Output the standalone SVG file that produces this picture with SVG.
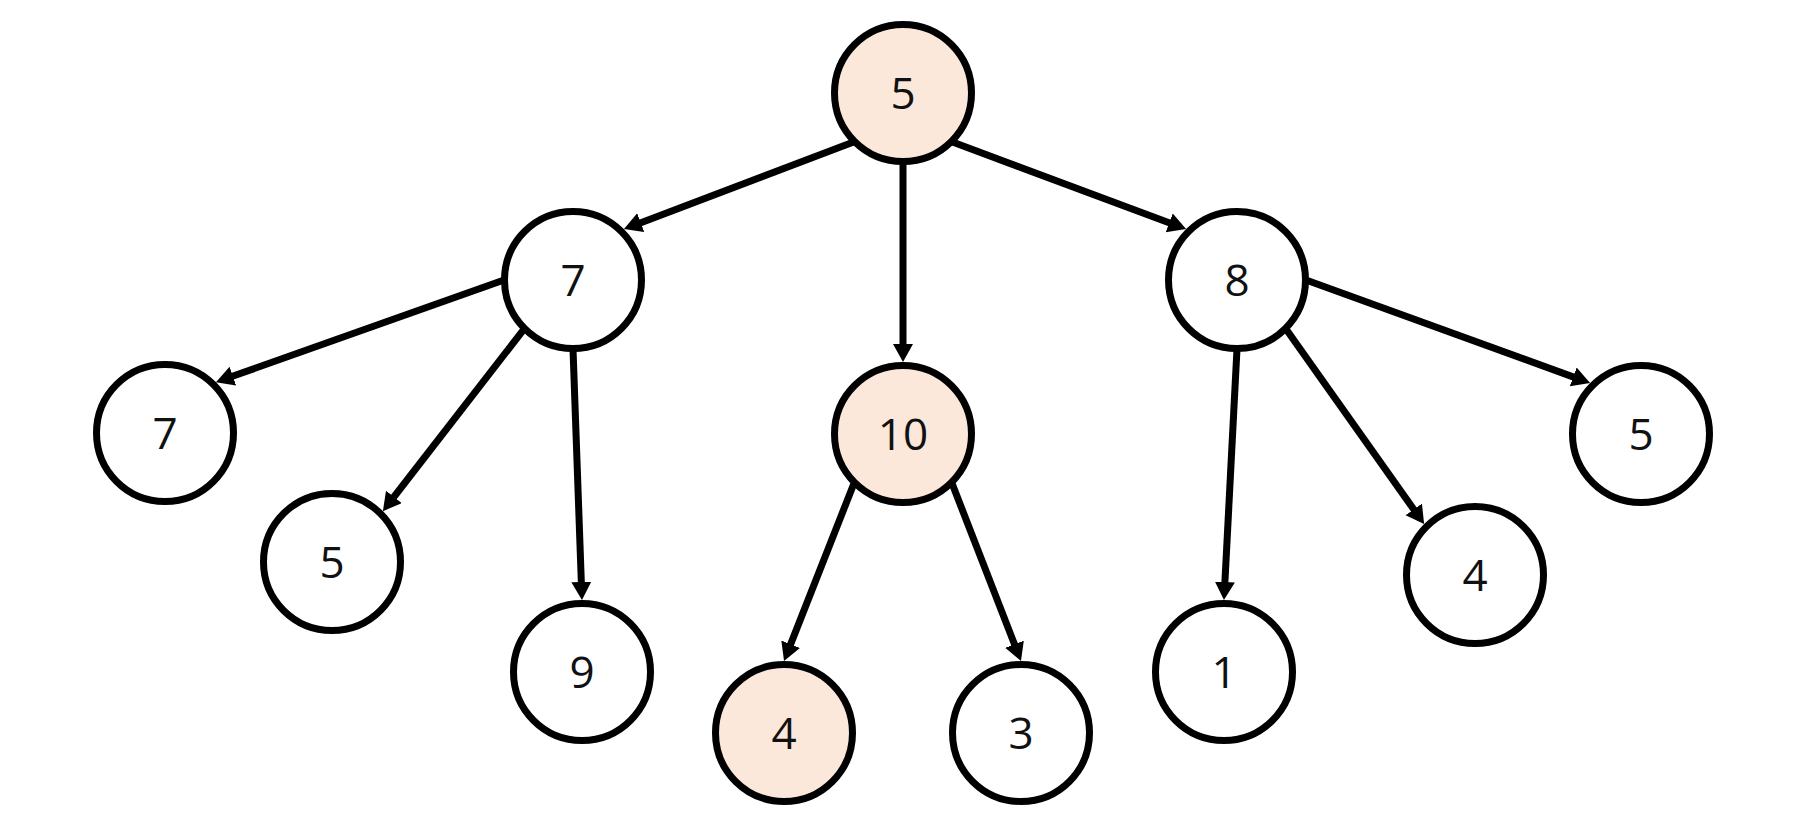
<svg xmlns="http://www.w3.org/2000/svg" width="1804" height="832" viewBox="0 0 1804 832">
  <style>
    .node circle { fill: #ffffff; stroke: #000000; stroke-width: 7; }
    .node.hl circle { fill: #FBE8DB; }
    .node text { font-family: "Open Sans", "Noto Sans", "Liberation Sans", sans-serif; font-size: 44px; fill: #111111; text-anchor: middle; }
    .edges line { stroke: #000000; stroke-width: 7; marker-end: url(#arr); }
  </style>
  <defs>
    <marker id="arr" markerUnits="userSpaceOnUse" markerWidth="20" markerHeight="22" refX="2" refY="10" orient="auto">
      <path d="M0,0 L18,10 L0,20 z" fill="#000000"/>
    </marker>
  </defs>
  <rect width="1804" height="832" fill="#ffffff"/>
  <g id="connectors" class="edges">
    <line x1="854.2" y1="141.8" x2="638.9" y2="223.4"/>
    <line x1="903" y1="162" x2="903" y2="346"/>
    <line x1="951.8" y1="141.8" x2="1171.1" y2="223.5"/>
    <line x1="504" y1="280" x2="231.0" y2="376.8"/>
    <line x1="524.2" y1="328.8" x2="392.7" y2="498.5"/>
    <line x1="573" y1="349" x2="581.4" y2="584"/>
    <line x1="854.2" y1="482.8" x2="789.9" y2="646.1"/>
    <line x1="951.8" y1="482.8" x2="1015.2" y2="646.1"/>
    <line x1="1237" y1="349" x2="1224.8" y2="584"/>
    <line x1="1285.8" y1="328.8" x2="1414.9" y2="511.0"/>
    <line x1="1306" y1="280" x2="1575.1" y2="377.6"/>
  </g>
  <g id="node-root" class="node hl"><circle cx="903" cy="93" r="68.5"/><text x="903" y="108.5">5</text></g>
  <g id="node-7" class="node"><circle cx="573" cy="280" r="68.5"/><text x="573" y="295.5">7</text></g>
  <g id="node-10" class="node hl"><circle cx="903" cy="434" r="68.5"/><text x="903" y="449.5">10</text></g>
  <g id="node-8" class="node"><circle cx="1237" cy="280" r="68.5"/><text x="1237" y="295.5">8</text></g>
  <g id="node-7-leaf" class="node"><circle cx="165" cy="433" r="68.5"/><text x="165" y="448.5">7</text></g>
  <g id="node-5-left" class="node"><circle cx="332" cy="562" r="68.5"/><text x="332" y="577.5">5</text></g>
  <g id="node-9" class="node"><circle cx="582" cy="672" r="68.5"/><text x="582" y="687.5">9</text></g>
  <g id="node-4-mid" class="node hl"><circle cx="784" cy="733" r="68.5"/><text x="784" y="748.5">4</text></g>
  <g id="node-3" class="node"><circle cx="1021" cy="733" r="68.5"/><text x="1021" y="748.5">3</text></g>
  <g id="node-1" class="node"><circle cx="1224" cy="672" r="68.5"/><text x="1224" y="687.5">1</text></g>
  <g id="node-4-right" class="node"><circle cx="1475" cy="575" r="68.5"/><text x="1475" y="590.5">4</text></g>
  <g id="node-5-right" class="node"><circle cx="1641" cy="434" r="68.5"/><text x="1641" y="449.5">5</text></g>
</svg>
